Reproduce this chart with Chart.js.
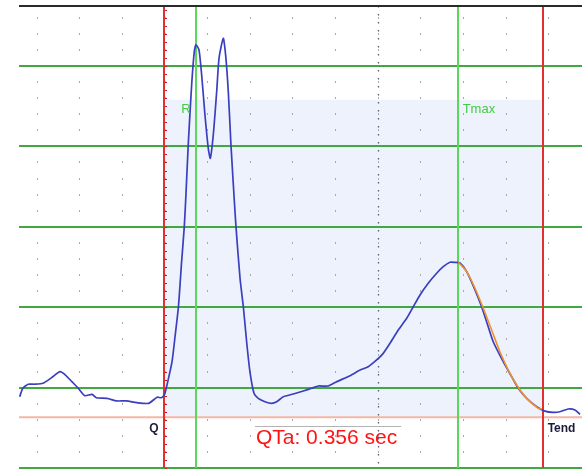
<!DOCTYPE html>
<html>
<head>
<meta charset="utf-8">
<title>QTa</title>
<script src="https://cdn.jsdelivr.net/npm/chart.js@4.4.0/dist/chart.umd.min.js"></script>
<style>
  html, body { margin: 0; padding: 0; background: #fff; }
  #wrap { width: 582px; height: 469px; position: relative; }
</style>
</head>
<body>
<div id="wrap"><canvas id="ecg"></canvas></div>
<script>
// averaged beat: time in ms, amplitude in mV
var timeMs = [24, 27, 32, 38, 46, 54, 62, 67, 73, 79,
    85, 92, 96, 106, 115, 124, 134, 145, 153, 157,
    160, 163, 167, 170, 173, 176, 178.5, 180, 182.2, 185.4,
    187.9, 189.5, 192.3, 194.8, 197.9, 201, 202.9, 205.7, 208.9, 211.1,
    215.1, 217.3, 219.8, 222.3, 225.4, 227, 230.8, 233.9, 237, 240.1,
    243.9, 247.9, 254.2, 260.5, 265.2, 271.4, 280.8, 290.2, 298, 304.2,
    313.6, 321.5, 334, 343.4, 351.1, 359, 365.2, 371.5, 379.3, 387.2,
    393.4, 399.7, 407.4, 415.3, 421.5, 427.8, 432.5, 437.2, 443.5, 451.3,
    457.5, 462.2, 468.4, 477.8, 485.7, 491.9, 499.8, 509.2, 516.9, 524.7,
    531, 538.8, 545.1, 549.8];
var ecgMv = [-0.057, -0.004, 0.021, 0.021, 0.027, 0.062, 0.099, 0.078, 0.037, -0.004,
    -0.050, -0.042, -0.063, -0.067, -0.083, -0.083, -0.094, -0.098, -0.060, -0.063,
    -0.042, 0.037, 0.161, 0.327, 0.503, 0.783, 1.001, 1.192, 1.509, 1.882,
    2.089, 2.131, 2.100, 1.944, 1.695, 1.488, 1.426, 1.571, 1.840, 2.048,
    2.172, 2.068, 1.840, 1.509, 1.167, 1.001, 0.680, 0.503, 0.285, 0.099,
    -0.035, -0.067, -0.088, -0.098, -0.088, -0.057, -0.040, -0.021, -0.004, 0.010,
    0.010, 0.037, 0.074, 0.109, 0.130, 0.172, 0.213, 0.275, 0.358, 0.431,
    0.503, 0.576, 0.649, 0.711, 0.752, 0.779, 0.779, 0.775, 0.721, 0.607,
    0.503, 0.410, 0.285, 0.161, 0.068, -0.004, -0.067, -0.119, -0.146, -0.154,
    -0.150, -0.133, -0.139, -0.166];

// fitted descending limb of T
var fitMs = [435.6, 443.5, 451.3, 459.1, 466.9, 474.7, 482.5, 490.4, 499.8, 510.7, 513.9];
var fitMv = [0.779, 0.721, 0.618, 0.493, 0.358, 0.223, 0.109, 0.016, -0.067, -0.129, -0.135];

var markerNames = ['Q', 'R', 'Tmax', 'Tend'];
var markerMs = [159, 189.2, 435, 514.8];
var stPointMs = 360;
var baselineMv = -0.185;
var shadeTopMv = 1.79;
var qtaLabel = 'QTa: 0.356 sec';

var xRange = [23.4, 551.7];
var yRange = [-0.5, 2.373];
var majorMv = 0.5, minorMv = 0.1, columnMs = 40;

var markerStyle = {
    Q:    {line: '#e23030', text: '#1c1c3a', font: 'bold 12px', side: -1, labelMv: -0.274},
    R:    {line: '#5ad85a', text: '#44cc44', font: '13px', side: -1, labelMv: 1.71},
    Tmax: {line: '#5ad85a', text: '#44cc44', font: '13px', side: 1, labelMv: 1.71},
    Tend: {line: '#e23030', text: '#1c1c3a', font: 'bold 12px', side: 1, labelMv: -0.274}
};

function toPoints(xs, ys) {
    return xs.map(function (x, i) { return {x: x, y: ys[i]}; });
}

function line(ctx, x1, y1, x2, y2) {
    ctx.beginPath();
    ctx.moveTo(x1, y1);
    ctx.lineTo(x2, y2);
    ctx.stroke();
}

var ecgBackdrop = {
    id: 'ecgBackdrop',
    beforeDraw: function (chart) {
        var ctx = chart.ctx;
        var xs = chart.scales.x, ys = chart.scales.y;
        ctx.save();
        ctx.fillStyle = '#fff';
        ctx.fillRect(0, 0, chart.width, chart.height);

        // measuring window Q..Tend
        var q = xs.getPixelForValue(markerMs[0]), tend = xs.getPixelForValue(markerMs[3]);
        var top = ys.getPixelForValue(shadeTopMv), base = ys.getPixelForValue(baselineMv);
        ctx.fillStyle = '#edf2fc';
        ctx.fillRect(q, top, tend - q, base - top);

        // dotted minor grid
        ctx.fillStyle = '#a9a9a9';
        for (var t = columnMs; t < xRange[1]; t += columnMs) {
            var px = Math.round(xs.getPixelForValue(t));
            for (var v = yRange[0]; v < yRange[1]; v += minorMv) {
                ctx.fillRect(px, Math.round(ys.getPixelForValue(v)) - 1, 1, 2);
            }
        }
        ctx.restore();
    },
    beforeDatasetsDraw: function (chart) {
        var ctx = chart.ctx, a = chart.chartArea;
        var xs = chart.scales.x, ys = chart.scales.y;
        ctx.save();

        var st = Math.round(xs.getPixelForValue(stPointMs)) + 0.5;
        ctx.strokeStyle = '#5a5a6e';
        ctx.lineWidth = 1.3;
        ctx.setLineDash([1.5, 6.5]);
        line(ctx, st, a.top, st, a.bottom);
        ctx.setLineDash([]);

        var b = ys.getPixelForValue(baselineMv);
        ctx.strokeStyle = '#f6b6a6';
        ctx.lineWidth = 2;
        line(ctx, a.left, b, a.right, b);

        markerMs.forEach(function (ms, i) {
            var x = Math.round(xs.getPixelForValue(ms));
            ctx.strokeStyle = markerStyle[markerNames[i]].line;
            ctx.lineWidth = 2;
            line(ctx, x, a.top, x, a.bottom);
        });

        // ruler ticks on the Q line
        var qx = Math.round(xs.getPixelForValue(markerMs[0]));
        ctx.strokeStyle = '#b82020';
        ctx.lineWidth = 1;
        for (var v = yRange[0]; v < yRange[1]; v += minorMv / 2) {
            var y = Math.round(ys.getPixelForValue(v)) + 0.5;
            line(ctx, qx + 1, y, qx + 3, y);
        }

        ctx.strokeStyle = '#2a2a2a';
        ctx.lineWidth = 2;
        line(ctx, a.left, a.top, a.right, a.top);
        ctx.restore();
    },
    afterDatasetsDraw: function (chart) {
        var ctx = chart.ctx;
        var xs = chart.scales.x, ys = chart.scales.y;
        ctx.save();
        ctx.textBaseline = 'alphabetic';
        markerNames.forEach(function (name, i) {
            var s = markerStyle[name];
            var x = xs.getPixelForValue(markerMs[i]);
            ctx.font = s.font + ' "Liberation Sans", Arial, sans-serif';
            ctx.fillStyle = s.text;
            ctx.textAlign = s.side < 0 ? 'right' : 'left';
            ctx.fillText(name, x + s.side * 5, ys.getPixelForValue(s.labelMv));
        });

        ctx.font = '21px "Liberation Sans", Arial, sans-serif';
        ctx.textAlign = 'center';
        ctx.fillStyle = '#ff1414';
        var cx = xs.getPixelForValue(312), by = ys.getPixelForValue(-0.351);
        ctx.fillText(qtaLabel, cx, by);
        var w = ctx.measureText(qtaLabel).width;
        ctx.strokeStyle = '#b4b4b4';
        ctx.lineWidth = 1;
        line(ctx, cx - w / 2 - 1, Math.round(by - 18) + 0.5, cx + w / 2 + 4, Math.round(by - 18) + 0.5);
        ctx.restore();
    }
};

new Chart(document.getElementById('ecg'), {
    type: 'line',
    data: {
        datasets: [
            {
                label: 'ECG',
                data: toPoints(timeMs, ecgMv),
                borderColor: '#3a3fbf',
                borderWidth: 1.7,
                pointRadius: 0,
                tension: 0.2,
                order: 2
            },
            {
                label: 'T fit',
                data: toPoints(fitMs, fitMv),
                borderColor: '#f0922c',
                borderWidth: 1.6,
                pointRadius: 0,
                tension: 0.3,
                order: 1
            }
        ]
    },
    options: {
        responsive: true,
        maintainAspectRatio: false,
        animation: false,
        layout: { padding: { left: 19, top: 6, right: 0, bottom: 1 } },
        plugins: { legend: { display: false }, tooltip: { enabled: false } },
        scales: {
            x: { type: 'linear', min: xRange[0], max: xRange[1], display: false },
            y: {
                min: yRange[0],
                max: yRange[1],
                ticks: { display: false, stepSize: majorMv, includeBounds: false },
                border: { display: false },
                grid: { color: '#42a842', lineWidth: 2, drawTicks: false }
            }
        }
    },
    plugins: [ecgBackdrop]
});
</script>
</body>
</html>
